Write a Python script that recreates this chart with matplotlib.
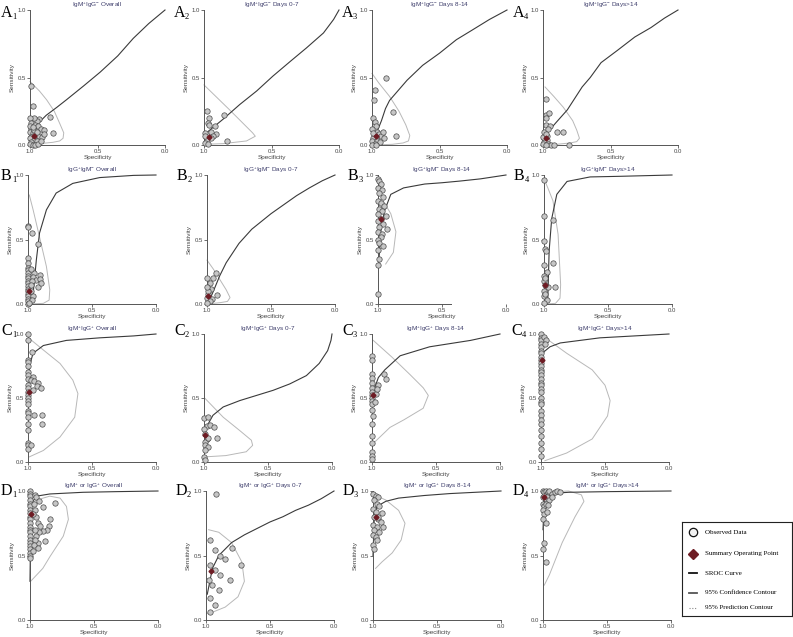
"""Four-by-four grid of SROC plots for IgM/IgG antibody tests, with a shared legend."""
import matplotlib

matplotlib.use("Agg")
import matplotlib.pyplot as plt
from matplotlib.lines import Line2D

plt.rcParams["font.family"] = ["Liberation Sans", "DejaVu Sans"]
plt.rcParams["mathtext.fontset"] = "custom"
plt.rcParams["mathtext.rm"] = "Liberation Sans"
plt.rcParams["mathtext.it"] = "Liberation Sans:italic"

# ---------------------------------------------------------------- data
# each panel: observed points, SROC curve, prediction contour, summary point
a1_spec = [.99, .98, .85, .83, .93, .95, .97, 1.0, .99, .96, .94, .92, .90, .99, 1.0, .98, .96, .93,
           .91, .99, 1.0, .97, .95, .99, 1.0, .98, .96, .94, .92, .97, .95, .90, 1.0, .98]
a1_sens = [.44, .29, .21, .09, .19, .18, .20, .20, .16, .15, .14, .12, .11, .12, .10, .09, .08, .07,
           .06, .06, .05, .04, .03, .02, .01, .00, .00, .01, .03, .11, .10, .08, .14, .13]
a1_sroc_spec = [.94, .88, .80, .73, .60, .48, .35, .235, .12, 0.0]
a1_sroc_sens = [.16, .22, .28, .335, .44, .54, .66, .79, .90, 1.0]
a1_pred_spec = [1.0, .93, .877, .82, .78, .75, .755, .78, .83, .93, 1.0]
a1_pred_sens = [.47, .40, .335, .25, .16, .09, .05, .03, .02, .01, 0.0]
a1_summary = (.97, .07)

a2_spec = [.98, .96, .97, .96, .92, .85, .91, .95, .93, .83, .98, .99, .97, .95, .995, .995]
a2_sens = [.25, .20, .16, .15, .14, .22, .08, .10, .065, .03, .04, .015, .01, .05, .09, .065]
a2_sroc_spec = [.97, .86, .735, .61, .49, .36, .24, .115, .04, 0.0]
a2_sroc_sens = [.10, .19, .30, .40, .51, .62, .72, .83, .93, 1.0]
a2_pred_spec = [1.0, .81, .64, .62, .685, .86, 1.0]
a2_pred_sens = [.445, .26, .09, .065, .03, .01, .005]
a2_summary = (.96, .06)

a3_spec = [.90, .98, .985, .845, .82, .99, .98, .97, 1.0, .96, .95, .93, .97, .99, 1.0, .96, .94,
           .98, .91, .99, 1.0, .97, .92]
a3_sens = [.50, .41, .33, .245, .07, .20, .17, .14, .12, .10, .08, .07, .06, .05, .03, .03, .02,
           .01, .05, .09, .00, .00, .10]
a3_sroc_spec = [.97, .93, .90, .87, .74, .625, .50, .375, .26, .13, 0.0]
a3_sroc_sens = [.08, .18, .27, .33, .48, .59, .68, .78, .85, .93, 1.0]
a3_pred_spec = [1.0, .95, .87, .80, .75, .72, .73, .77, .85, 1.0]
a3_pred_sens = [.53, .46, .36, .25, .15, .07, .03, .015, .005, 0.0]
a3_summary = (.97, .07)

a4_spec = [.98, .98, .975, .955, .98, .90, .85, .81, .95, .99, .97, .99, 1.0, .96, .94, .92, .98,
           1.0, .97, .99, .96, .98]
a4_sens = [.34, .22, .20, .235, .15, .10, .10, .00, .14, .05, .04, .02, .01, .01, .00, .00, .00,
           .06, .07, .10, .12, .08]
a4_sroc_spec = [.99, .97, .90, .82, .71, .65, .57, .45, .32, .20, .10, 0.0]
a4_sroc_sens = [.03, .09, .17, .26, .43, .50, .61, .70, .80, .87, .94, 1.0]
a4_pred_spec = [.985, .92, .85, .78, .75, .73, .75, .80, .90, 1.0]
a4_pred_sens = [.43, .36, .28, .18, .11, .05, .025, .015, .005, 0.0]
a4_summary = (.98, .05)

b1_spec = [1, 1, .965, .92, 1, 1, 1, 1, 1, 1, 1, 1, 1, 1, 1, 1, 1, 1, 1, 1, 1,
           .95, .91, .96, .935, .91, .925, .895, .96, .98, .97, .98, .97, .99, .98]
b1_sens = [.605, .595, .55, .465, .355, .315, .28, .26, .24, .22, .20, .18, .16, .14, .12, .10, .08,
           .06, .04, .02, .00, .24, .225, .21, .185, .19, .135, .16, .06, .27, .18, .10, .03, .01, .15]
b1_sroc_spec = [.99, .96, .935, .91, .856, .78, .65, .44, .175, 0.0]
b1_sroc_sens = [0.0, .08, .34, .55, .73, .86, .935, .98, .997, 1.0]
b1_pred_spec = [.99, .96, .91, .856, .83, .835, .88, 1.0]
b1_pred_sens = [.845, .73, .52, .29, .11, .03, .005, 0.0]
b1_summary = (.99, .10)

b2_spec = [.93, .95, .98, .97, .99, 1.0, .96, .98, 1.0, .99, 1.0, .92, 1.0]
b2_sens = [.24, .20, .16, .12, .08, .05, .04, .02, .01, .10, .13, .07, .20]
b2_sroc_spec = [.98, .95, .90, .85, .75, .65, .50, .40, .30, .20, .10, 0.0]
b2_sroc_sens = [.03, .10, .22, .32, .47, .58, .70, .77, .84, .90, .955, 1.0]
b2_pred_spec = [1.0, .95, .90, .85, .82, .84, .90, 1.0]
b2_pred_sens = [.34, .27, .19, .11, .05, .02, .01, 0.0]
b2_summary = (.99, .06)

b3_spec = [1, .99, .98, 1, .97, .99, .96, 1, .98, .95, .99, .97, 1, .94, .98, 1, .96, .99, .93,
           1, .97, .98, 1, .99, .96, 1, .99, 1, 1]
b3_sens = [.97, .95, .93, .90, .88, .86, .83, .80, .78, .76, .74, .72, .70, .68, .66, .64, .62,
           .60, .58, .56, .54, .52, .50, .47, .45, .42, .35, .30, .08]
b3_sroc_spec = [.995, .98, .95, .90, .80, .635, .50, .36, .20, 0.0]
b3_sroc_sens = [.30, .55, .72, .85, .90, .93, .94, .953, .97, 1.0]
b3_pred_spec = [.96, .90, .86, .88, .94]
b3_pred_sens = [.80, .70, .56, .40, .31]
b3_summary = (.98, .66)

b4_spec = [1, 1, .93, 1, .99, .985, .93, .975, .915, .97, 1, 1, 1, 1, 1, .99, .99, .98, 1, .99]
b4_sens = [.96, .68, .65, .49, .43, .41, .32, .25, .135, .13, .30, .22, .18, .10, .06, .15, .08,
           .03, .01, .20]
b4_sroc_spec = [.97, .96, .94, .90, .82, .64, .40, .20, 0.0]
b4_sroc_sens = [.04, .41, .66, .85, .95, .985, .99, .995, 1.0]
b4_pred_spec = [1.0, .97, .93, .89, .87, .875, .91, 1.0]
b4_pred_sens = [.97, .90, .80, .54, .15, .045, .005, 0.0]
b4_summary = (.99, .15)

c1_spec = [1] * 23 + [.97, .96, .975, .95, .92, .93, .96, .895, .95, .89, .89, .98]
c1_sens = [1.0, .95, .80, .78, .75, .70, .68, .65, .60, .58, .55, .52, .50, .48, .45, .40, .38,
           .35, .30, .25, .15, .13, .10, .86, .665, .64, .63, .62, .59, .565, .58, .365, .365,
           .30, .13]
c1_sroc_spec = [.998, .987, .96, .88, .70, .44, .175, 0.0]
c1_sroc_sens = [.60, .757, .85, .91, .95, .97, .985, 1.0]
c1_pred_spec = [.99, .88, .75, .65, .61, .635, .75, .88, .99]
c1_pred_sens = [.965, .875, .77, .64, .535, .35, .195, .09, .04]
c1_summary = (.99, .55)

c2_spec = [1, .97, .98, 1, .955, .925, .995, .98, .995, .97, .90, .995, .97, .995, 1, .99]
c2_sens = [.34, .35, .285, .26, .29, .275, .215, .18, .155, .19, .185, .13, .12, .09, .04, .013]
c2_sroc_spec = [.98, .93, .85, .72, .59, .46, .33, .20, .10, .034, .008, 0.0]
c2_sroc_sens = [.275, .365, .43, .48, .52, .56, .61, .675, .77, .87, .95, 1.0]
c2_pred_spec = [.995, .85, .72, .63, .62, .67, .83, .995]
c2_pred_sens = [.50, .35, .245, .17, .13, .08, .05, .04]
c2_summary = (.99, .21)

c3_spec = [1] * 18 + [.91, .89, .95, .97, .96, .98, .99]
c3_sens = [.83, .80, .69, .66, .62, .58, .55, .52, .50, .48, .45, .41, .30, .20, .15, .08, .05,
           .02, .69, .65, .60, .53, .57, .47, .36]
c3_sroc_spec = [.99, .95, .90, .78, .55, .23, 0.0]
c3_sroc_sens = [.55, .66, .72, .83, .90, .95, 1.0]
c3_pred_spec = [.99, .845, .70, .60, .56, .60, .75, .86, .98]
c3_pred_sens = [.95, .82, .68, .58, .52, .42, .33, .27, .155]
c3_summary = (.99, .52)

c4_spec = [1] * 31 + [.98, .96, .97]
c4_sens = [1.0, .97, .95, .92, .90, .87, .85, .82, .80, .77, .75, .72, .70, .68, .65, .62, .60,
           .57, .55, .50, .47, .45, .40, .37, .33, .30, .25, .20, .15, .10, .05, .98, .95, .92]
c4_sroc_spec = [.99, .93, .85, .54, 0.0]
c4_sroc_sens = [.85, .90, .93, .97, 1.0]
c4_pred_spec = [.98, .80, .60, .50, .46, .48, .60, .80, .97]
c4_pred_sens = [.98, .85, .72, .60, .48, .36, .18, .07, .01]
c4_summary = (.99, .80)

d1_spec = [1] * 22 + [.805, .90, .845, .855, .87, .90, .88, .935, .975, .96, .95, .93, .96, .95,
                      .94, .92, .93, .95, .96, .97, .94, .96, .98, .97]
d1_sens = [1.0, .98, .96, .93, .90, .88, .85, .83, .80, .78, .75, .72, .70, .68, .65, .62, .60,
           .57, .55, .52, .50, .48, .91, .875, .78, .725, .70, .69, .615, .60, .535, .97, .95,
           .92, .85, .80, .75, .73, .68, .65, .62, .58, .56, .70, .82, .90]
d1_sroc_spec = [1.0, .995, .99, .95, .845, .585, .325, 0.0]
d1_sroc_sens = [.30, .70, .90, .96, .977, .99, .995, 1.0]
d1_pred_spec = [.995, .90, .845, .74, .70, .715, .765, .845, .95, .99]
d1_pred_sens = [.30, .40, .49, .65, .78, .88, .945, .96, .93, .90]
d1_summary = (.99, .82)

d2_spec = [.92, .80, .97, .93, .89, .85, .97, .93, .89, .98, .95, .90, .97, .93, .97, .81, .73]
d2_sens = [.98, .56, .62, .54, .50, .47, .43, .39, .35, .31, .27, .23, .17, .12, .06, .31, .43]
d2_sroc_spec = [.99, .95, .90, .80, .70, .60, .50, .40, .30, .20, .10, 0.0]
d2_sroc_sens = [.20, .40, .50, .60, .66, .71, .76, .80, .85, .89, .94, 1.0]
d2_pred_spec = [.98, .90, .80, .72, .70, .75, .85, .95, .99]
d2_pred_sens = [.70, .68, .60, .45, .30, .18, .10, .06, .05]
d2_summary = (.96, .38)

d3_spec = [1, .98, .96, .99, .97, .95, 1, .98, .93, .99, .96, .94, 1, .97, .99, .95, 1, .98, .92,
           .97, 1, .99, .96]
d3_sens = [.98, .96, .95, .93, .90, .88, .86, .84, .83, .80, .78, .76, .74, .72, .70, .68, .66,
           .64, .72, .62, .58, .55, .80]
d3_sroc_spec = [1.0, .99, .97, .90, .80, .60, .40, .20, 0.0]
d3_sroc_sens = [.50, .80, .88, .92, .945, .965, .98, .99, 1.0]
d3_pred_spec = [.99, .90, .80, .75, .78, .85, .93, .98]
d3_pred_sens = [.97, .93, .85, .75, .62, .52, .45, .40]
d3_summary = (.98, .80)

d4_spec = [1, .99, .98, .97, .96, .95, .93, .91, .89, .87, 1, .99, .98, .97, .95, .93, 1, .99,
           .98, .96, 1, .99, .97, 1, .98, 1, .99, .98]
d4_sens = [1.0, .99, 1.0, .98, .99, 1.0, .98, .99, 1.0, .99, .95, .96, .94, .95, .93, .95, .90,
           .88, .90, .89, .85, .82, .84, .78, .75, .55, .60, .45]
d4_sroc_spec = [1.0, .99, .95, .80, .50, 0.0]
d4_sroc_sens = [.70, .93, .98, .99, .995, 1.0]
d4_pred_spec = [.98, .80, .70, .68, .75, .85, .95, .99]
d4_pred_sens = [.99, 1.0, .97, .92, .80, .60, .35, .27]
d4_summary = (.99, .95)

row_letters = ["A", "B", "C", "D"]
row_names = [r"IgM$^{+}$IgG$^{-}$", r"IgG$^{+}$IgM$^{-}$", r"IgM$^{+}$IgG$^{+}$",
             r"IgM$^{+}$ or IgG$^{+}$"]
col_names = ["Overall", "Days 0-7", "Days 8-14", "Days>14"]

panels = [
    [(a1_spec, a1_sens, a1_sroc_spec, a1_sroc_sens, a1_pred_spec, a1_pred_sens, a1_summary),
     (a2_spec, a2_sens, a2_sroc_spec, a2_sroc_sens, a2_pred_spec, a2_pred_sens, a2_summary),
     (a3_spec, a3_sens, a3_sroc_spec, a3_sroc_sens, a3_pred_spec, a3_pred_sens, a3_summary),
     (a4_spec, a4_sens, a4_sroc_spec, a4_sroc_sens, a4_pred_spec, a4_pred_sens, a4_summary)],
    [(b1_spec, b1_sens, b1_sroc_spec, b1_sroc_sens, b1_pred_spec, b1_pred_sens, b1_summary),
     (b2_spec, b2_sens, b2_sroc_spec, b2_sroc_sens, b2_pred_spec, b2_pred_sens, b2_summary),
     (b3_spec, b3_sens, b3_sroc_spec, b3_sroc_sens, b3_pred_spec, b3_pred_sens, b3_summary),
     (b4_spec, b4_sens, b4_sroc_spec, b4_sroc_sens, b4_pred_spec, b4_pred_sens, b4_summary)],
    [(c1_spec, c1_sens, c1_sroc_spec, c1_sroc_sens, c1_pred_spec, c1_pred_sens, c1_summary),
     (c2_spec, c2_sens, c2_sroc_spec, c2_sroc_sens, c2_pred_spec, c2_pred_sens, c2_summary),
     (c3_spec, c3_sens, c3_sroc_spec, c3_sroc_sens, c3_pred_spec, c3_pred_sens, c3_summary),
     (c4_spec, c4_sens, c4_sroc_spec, c4_sroc_sens, c4_pred_spec, c4_pred_sens, c4_summary)],
    [(d1_spec, d1_sens, d1_sroc_spec, d1_sroc_sens, d1_pred_spec, d1_pred_sens, d1_summary),
     (d2_spec, d2_sens, d2_sroc_spec, d2_sroc_sens, d2_pred_spec, d2_pred_sens, d2_summary),
     (d3_spec, d3_sens, d3_sroc_spec, d3_sroc_sens, d3_pred_spec, d3_pred_sens, d3_summary),
     (d4_spec, d4_sens, d4_sroc_spec, d4_sroc_sens, d4_pred_spec, d4_pred_sens, d4_summary)],
]

# ---------------------------------------------------------------- layout (pixels)
W, H = 793, 637
row_tops = [10, 175, 334, 491]
row_heights = [135, 129, 128, 129]
col_lefts = [[30, 204, 372, 543], [28, 207, 378, 544], [28, 204, 372, 541], [30, 206, 373, 543]]
col_widths = [135, 128, 128, 128]
tag_base = [7, 5, 1, 4]       # baseline of the panel tag, pixels below the axes top

SROC_COL = "#3a3a3a"
PRED_COL = "#b8b8b8"
PT_FACE = "#c6c6c6"
PT_EDGE = "#4a4a4a"
SUMM_COL = "#6e1c24"
TITLE_COL = "#3d3d6b"

fig = plt.figure(figsize=(W / 100, H / 100), dpi=100)

for r in range(4):
    for c in range(4):
        left = col_lefts[r][c]
        top = row_tops[r]
        w = col_widths[r]
        h = row_heights[r]
        ax = fig.add_axes([left / W, 1 - (top + h) / H, w / W, h / H])
        spec, sens, s_spec, s_sens, p_spec, p_sens, summ = panels[r][c]

        ax.plot(p_spec, p_sens, color=PRED_COL, lw=0.7, clip_on=False)
        ax.plot(s_spec, s_sens, color=SROC_COL, lw=0.8, clip_on=False)
        ax.scatter(spec, sens, s=15, facecolor=PT_FACE, edgecolor=PT_EDGE, linewidth=0.5,
                   zorder=3, clip_on=False)
        ax.plot([summ[0]], [summ[1]], marker="D", ms=2.5, color=SUMM_COL, zorder=4,
                clip_on=False)

        ax.set_xlim(1.0, 0.0)
        ax.set_ylim(0.0, 1.0)
        ax.set_xticks([1.0, 0.5, 0.0])
        ax.set_yticks([0.0, 0.5, 1.0])
        ax.set_xticklabels(["1.0", "0.5", "0.0"])
        ax.set_yticklabels(["0.0", "0.5", "1.0"])
        for side in ("top", "right"):
            ax.spines[side].set_visible(False)
        for side in ("left", "bottom"):
            ax.spines[side].set_linewidth(0.7)
            ax.spines[side].set_color("#555555")
        if r == 1 and c == 2:
            ax.spines["bottom"].set_bounds(1.0, 0.43)
        ax.tick_params(labelsize=4.3, length=2, width=0.6, pad=1, colors="#555555",
                       labelcolor="#444444")
        ax.set_xlabel("Specificity", fontsize=4.6, labelpad=0.5, color="#444444")
        ax.set_ylabel("Sensitivity", fontsize=4.6, labelpad=2, color="#444444")

        # panel title, centred a few pixels above the plot
        fig.text((left + w / 2) / W, 1 - (top - 5) / H, row_names[r] + " " + col_names[c],
                 fontsize=4.6, color=TITLE_COL, ha="center", va="center")

        # panel tag, e.g. A with subscript 1
        tag_x = max(left - 30, 1)
        fig.text(tag_x / W, 1 - (top + tag_base[r]) / H, row_letters[r], fontsize=11.5,
                 family="Liberation Serif", va="baseline", ha="left")
        fig.text((tag_x + 11) / W, 1 - (top + tag_base[r] + 2) / H, str(c + 1), fontsize=6,
                 family="Liberation Serif", va="baseline", ha="left")

# ---------------------------------------------------------------- legend box
lg = fig.add_axes([682 / W, 1 - 616 / H, 110 / W, 94 / H])
lg.set_xlim(0, 1)
lg.set_ylim(0, 1)
lg.set_xticks([])
lg.set_yticks([])
for sp in lg.spines.values():
    sp.set_linewidth(0.8)
    sp.set_color("#222222")

entry_y = [0.89, 0.66, 0.455, 0.245, 0.09]
entry_txt = ["Observed Data", "Summary Operating Point", "SROC Curve",
             "95% Confidence Contour", "95% Prediction Contour"]
lg.add_line(Line2D([0.1], [entry_y[0]], marker="o", ms=6, mfc="#f2f2f2", mec="#111111",
                   mew=0.9, ls="none"))
lg.add_line(Line2D([0.1], [entry_y[1]], marker="D", ms=5, color=SUMM_COL, ls="none"))
lg.add_line(Line2D([0.06, 0.14], [entry_y[2]] * 2, color="#111111", lw=1.3))
lg.add_line(Line2D([0.06, 0.14], [entry_y[3]] * 2, color="#555555", lw=1.3))
lg.add_line(Line2D([0.06, 0.14], [entry_y[4]] * 2, color="#888888", lw=0.8, ls=(0, (1, 1.5))))
for y, t in zip(entry_y, entry_txt):
    lg.text(0.21, y, t, fontsize=5, family="Liberation Serif", va="center", ha="left")

fig.savefig("out.png", dpi=100)
